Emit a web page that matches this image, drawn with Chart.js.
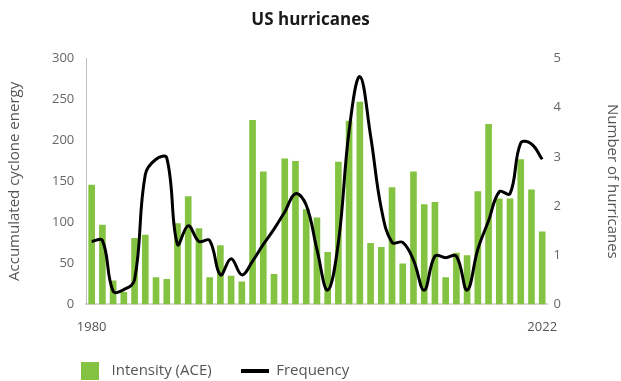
<!DOCTYPE html>
<html lang="en">
<head>
<meta charset="UTF-8">
<title>US hurricanes</title>
<style>
    body { margin: 0; background: #fff; }
    #chart-container { width: 621px; height: 381px; }
</style>
</head>
<body>
<div id="chart-container">
    <canvas id="hurricaneChart"></canvas>
</div>
<script src="https://cdn.jsdelivr.net/npm/chart.js"></script>
<script>
    const years = ['1980', '1981', '1982', '1983', '1984', '1985', '1986', '1987', '1988', '1989',
                   '1990', '1991', '1992', '1993', '1994', '1995', '1996', '1997', '1998', '1999',
                   '2000', '2001', '2002', '2003', '2004', '2005', '2006', '2007', '2008', '2009',
                   '2010', '2011', '2012', '2013', '2014', '2015', '2016', '2017', '2018', '2019',
                   '2020', '2021', '2022'];

    // accumulated cyclone energy (bars, left axis)
    const ace = [146, 97, 29, 15, 81, 85, 33, 31, 99, 132,
                 93, 33, 72, 35, 28, 225, 162, 37, 178, 175,
                 116, 106, 64, 174, 224, 247, 75, 70, 143, 50,
                 162, 122, 125, 33, 63, 60, 138, 220, 129, 129,
                 177, 140, 89];

    // number of hurricanes (line, right axis)
    const frequency = [1.28, 1.3, 0.27, 0.3, 0.5, 2.64, 2.95, 2.98, 1.22, 1.6,
                       1.28, 1.3, 0.6, 0.93, 0.6, 0.88, 1.22, 1.53, 1.88, 2.25,
                       2.02, 1.12, 0.29, 1.26, 3.53, 4.63, 3.43, 1.95, 1.26, 1.26,
                       0.9, 0.29, 0.98, 0.95, 0.98, 0.29, 1.12, 1.7, 2.29, 2.25,
                       3.28, 3.26, 2.95];

    const aceTicks = [0, 50, 100, 150, 200, 250, 300];
    const countTicks = [0, 1, 2, 3, 4, 5];

    const green = '#84c341';
    const grey = '#666';

    // little markers for the legend
    const boxMark = document.createElement('canvas');
    boxMark.width = 18; boxMark.height = 18;
    boxMark.getContext('2d').fillStyle = green;
    boxMark.getContext('2d').fillRect(0, 0, 18, 18);

    const lineMark = document.createElement('canvas');
    lineMark.width = 28; lineMark.height = 4;
    lineMark.getContext('2d').fillStyle = '#000';
    lineMark.getContext('2d').fillRect(0, 0, 28, 4);

    // move legend under the plot's left edge
    const legendPlace = {
        id: 'legendPlace',
        afterLayout(chart) {
            const pad = chart.options.plugins.legend.labels.padding;
            chart.legend.left = 76 - pad;
            chart.legend.top = 363 - pad;
        }
    };

    Chart.defaults.font.family = "'Open Sans', sans-serif";

    const ctx = document.getElementById('hurricaneChart').getContext('2d');
    new Chart(ctx, {
        data: {
            labels: years,
            datasets: [
                {
                    type: 'bar',
                    label: 'Intensity (ACE)',
                    data: ace,
                    backgroundColor: green,
                    categoryPercentage: 1,
                    barPercentage: 0.62,
                    yAxisID: 'y',
                    order: 2
                },
                {
                    type: 'line',
                    label: 'Frequency',
                    data: frequency,
                    borderColor: '#000',
                    borderWidth: 3,
                    pointRadius: 0,
                    tension: 0.4,
                    yAxisID: 'y1',
                    order: 1
                }
            ]
        },
        options: {
            responsive: true,
            maintainAspectRatio: false,
            animation: false,
            plugins: {
                title: {
                    display: true,
                    text: 'US hurricanes',
                    color: '#1a1a1a',
                    font: { size: 17, weight: 'bold' },
                    padding: { top: 10, bottom: 28 }
                },
                legend: {
                    position: 'bottom',
                    align: 'start',
                    maxHeight: 31,
                    labels: {
                        usePointStyle: true,
                        pointStyleWidth: 28,
                        padding: 29,
                        color: '#555',
                        font: { size: 15 },
                        sort: (a, b) => a.datasetIndex - b.datasetIndex,
                        generateLabels(chart) {
                            const items = Chart.defaults.plugins.legend.labels.generateLabels(chart);
                            items.forEach(item => {
                                item.pointStyle = item.datasetIndex === 0 ? boxMark : lineMark;
                            });
                            return items;
                        }
                    }
                },
                tooltip: { enabled: false }
            },
            scales: {
                x: {
                    grid: { display: false, drawTicks: false },
                    border: { color: '#d9d9d9', width: 2 },
                    ticks: {
                        autoSkip: false,
                        maxRotation: 0,
                        padding: 15,
                        color: '#555',
                        font: { size: 13 },
                        callback: function (value, index) {
                            return (index === 0 || index === years.length - 1) ? years[index] : '';
                        }
                    }
                },
                y: {
                    position: 'left',
                    min: aceTicks[0],
                    max: aceTicks[aceTicks.length - 1],
                    afterBuildTicks: axis => { axis.ticks = aceTicks.map(v => ({ value: v })); },
                    grid: { display: false, drawTicks: false },
                    border: { color: '#bfbfbf', width: 1 },
                    ticks: { padding: 12, color: grey, font: { size: 13 } },
                    title: {
                        display: true,
                        text: 'Accumulated cyclone energy',
                        color: '#555',
                        font: { size: 15 },
                        padding: { top: 6, bottom: 16 }
                    }
                },
                y1: {
                    position: 'right',
                    min: countTicks[0],
                    max: countTicks[countTicks.length - 1],
                    afterBuildTicks: axis => { axis.ticks = countTicks.map(v => ({ value: v })); },
                    grid: { display: false, drawTicks: false },
                    border: { display: false },
                    ticks: { padding: 6, color: grey, font: { size: 13 } },
                    title: {
                        display: true,
                        text: 'Number of hurricanes',
                        color: '#555',
                        font: { size: 15 },
                        padding: { top: 0, bottom: 36 }
                    }
                }
            }
        },
        plugins: [legendPlace]
    });
</script>
</body>
</html>
